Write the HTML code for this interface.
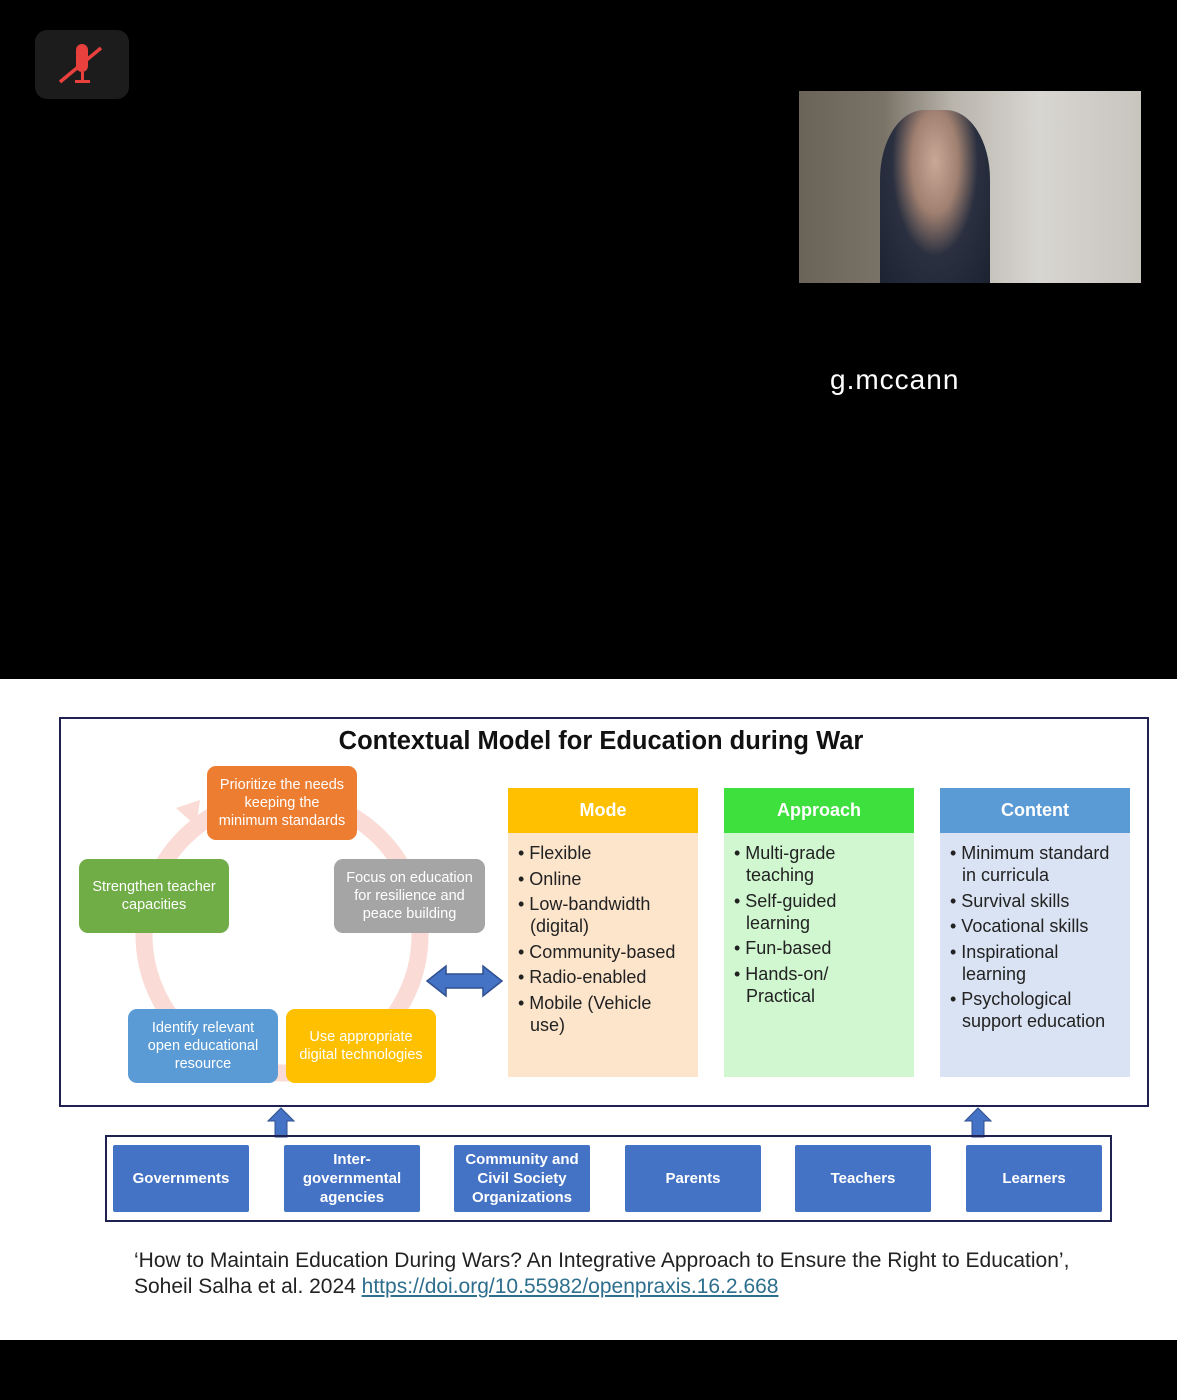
<!DOCTYPE html>
<html><head><style>
*{margin:0;padding:0;box-sizing:border-box}
body{width:1177px;height:1400px;background:#000;position:relative;font-family:"Liberation Sans",sans-serif;overflow:hidden}
.a{position:absolute}
.box{position:absolute;border-radius:9px;color:#fff;font-size:14.5px;line-height:18px;text-align:center;display:flex;align-items:center;justify-content:center}
.hd{position:absolute;color:#fff;font-weight:bold;font-size:18px;text-align:center;line-height:45px;height:45px}
.bd{position:absolute;font-size:18px;line-height:22px;color:#222;padding:9px 14px 0 10px}
.bd div{padding-left:12px;text-indent:-12px;margin-bottom:3.5px}
.sb{position:absolute;background:#4472c4;color:#fff;font-weight:bold;font-size:15px;line-height:19px;text-align:center;display:flex;align-items:center;justify-content:center;border-radius:2px;width:136px;height:67px;top:1145px}
</style></head><body>
<div class="a" style="left:35px;top:30px;width:94px;height:69px;background:#1c1c1c;border-radius:12px"></div>
<svg class="a" style="left:55px;top:40px" width="50" height="50" viewBox="0 0 50 50">
<rect x="21" y="4" width="12" height="28" rx="6" fill="#e8403c"/>
<rect x="26" y="32" width="3" height="8" fill="#e8403c"/>
<rect x="20" y="40" width="15" height="3" fill="#e8403c"/>
<line x1="5" y1="42" x2="46" y2="8" stroke="#e8403c" stroke-width="3.5"/>
</svg>
<div class="a" style="left:799px;top:91px;width:342px;height:192px;background:linear-gradient(90deg,#6a6458 0%,#7a7468 25%,#b9b4ac 45%,#d8d6d2 70%,#c8c4be 100%)"></div>
<div class="a" style="left:880px;top:110px;width:110px;height:173px;background:radial-gradient(ellipse at 50% 30%,#c9a898 0%,#a08070 30%,#2a3040 55%,#1c2230 100%);border-radius:40% 40% 0 0"></div>
<div class="a" style="left:830px;top:364px;color:#fff;font-size:28px;letter-spacing:1px">g.mccann</div>

<div class="a" style="left:0;top:679px;width:1177px;height:661px;background:#fff"></div>
<div class="a" style="left:59px;top:717px;width:1090px;height:390px;border:2px solid #1f2150"></div>
<div class="a" style="left:280px;top:727px;width:642px;text-align:center;font-weight:bold;font-size:25.5px;color:#111">Contextual Model for Education during War</div>

<svg class="a" style="left:0;top:0" width="1177" height="1400">
<circle cx="282" cy="935" r="138" fill="none" stroke="#fadbd5" stroke-width="17"/>
<polygon points="176,808 200,800 196,826" fill="#fadbd5"/>
<polygon points="427,981 446,966 446,974 483,974 483,966 502,981 483,996 483,988 446,988 446,996" fill="#4472c4" stroke="#2f4f8f" stroke-width="1.5"/>
<polygon points="281,1108 294,1121 287,1121 287,1137 275,1137 275,1121 268,1121" fill="#4472c4" stroke="#2f4f8f"/>
<polygon points="978,1108 991,1121 984,1121 984,1137 972,1137 972,1121 965,1121" fill="#4472c4" stroke="#2f4f8f"/>
</svg>

<div class="box" style="left:207px;top:766px;width:150px;height:74px;background:#ed7d31">Prioritize the needs<br>keeping the<br>minimum standards</div>
<div class="box" style="left:334px;top:859px;width:151px;height:74px;background:#a5a5a5">Focus on education<br>for resilience and<br>peace building</div>
<div class="box" style="left:79px;top:859px;width:150px;height:74px;background:#70ad47">Strengthen teacher<br>capacities</div>
<div class="box" style="left:128px;top:1009px;width:150px;height:74px;background:#5b9bd5">Identify relevant<br>open educational<br>resource</div>
<div class="box" style="left:286px;top:1009px;width:150px;height:74px;background:#ffc000">Use appropriate<br>digital technologies</div>

<div class="hd" style="left:508px;top:788px;width:190px;background:#ffc000">Mode</div>
<div class="bd" style="left:508px;top:833px;width:190px;height:244px;background:#fde5cc">
<div>• Flexible</div><div>• Online</div><div>• Low-bandwidth<br>(digital)</div><div>• Community-based</div><div>• Radio-enabled</div><div>• Mobile (Vehicle<br>use)</div></div>
<div class="hd" style="left:724px;top:788px;width:190px;background:#3ee03e">Approach</div>
<div class="bd" style="left:724px;top:833px;width:190px;height:244px;background:#d0f7d0">
<div>• Multi-grade<br>teaching</div><div>• Self-guided<br>learning</div><div>• Fun-based</div><div>• Hands-on/<br>Practical</div></div>
<div class="hd" style="left:940px;top:788px;width:190px;background:#5b9bd5">Content</div>
<div class="bd" style="left:940px;top:833px;width:190px;height:244px;background:#dae3f3">
<div>• Minimum standard<br>in curricula</div><div>• Survival skills</div><div>• Vocational skills</div><div>• Inspirational<br>learning</div><div>• Psychological<br>support education</div></div>

<div class="a" style="left:105px;top:1135px;width:1007px;height:87px;border:2px solid #1f2150"></div>
<div class="sb" style="left:113px">Governments</div>
<div class="sb" style="left:284px">Inter-<br>governmental<br>agencies</div>
<div class="sb" style="left:454px">Community and<br>Civil Society<br>Organizations</div>
<div class="sb" style="left:625px">Parents</div>
<div class="sb" style="left:795px">Teachers</div>
<div class="sb" style="left:966px">Learners</div>

<div class="a" style="left:134px;top:1248px;font-size:21px;line-height:26px;color:#222">‘How to Maintain Education During Wars? An Integrative Approach to Ensure the Right to Education’,<br>Soheil Salha et al. 2024 <span style="color:#2e6f8e;text-decoration:underline">https://doi.org/10.55982/openpraxis.16.2.668</span></div>
</body></html>
